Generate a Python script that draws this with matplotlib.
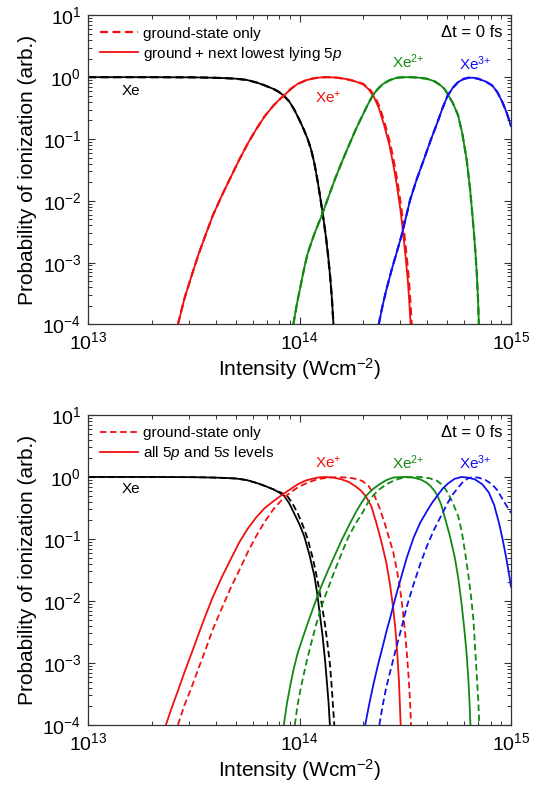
import numpy as np
import matplotlib
matplotlib.use("Agg")
import matplotlib.pyplot as plt
from matplotlib.ticker import LogLocator, NullFormatter

plt.rcParams['font.family'] = ['Liberation Sans', 'DejaVu Sans']
plt.rcParams['mathtext.fontset'] = 'custom'
plt.rcParams['mathtext.rm'] = 'Liberation Sans'
plt.rcParams['mathtext.it'] = 'Liberation Sans:italic'
plt.rcParams['mathtext.default'] = 'regular'

# ---------------- data: log10(intensity [W/cm^2]) and log10(probability) ----------------
# Top panel: solid = ground + next lowest lying 5p ; dashed = ground-state only
top_xe_logI = [13.0, 13.3, 13.5, 13.6, 13.65, 13.7, 13.75, 13.8, 13.84, 13.876, 13.9, 13.925, 13.95, 13.973,
               14.0, 14.02, 14.038, 14.055, 14.07, 14.085, 14.1, 14.113, 14.125, 14.135, 14.145, 14.153, 14.16]
top_xe_logP = [0, 0, -0.003, -0.01, -0.016, -0.025, -0.045, -0.09, -0.14, -0.19, -0.235, -0.30, -0.39, -0.515,
               -0.7, -0.85, -1.0, -1.18, -1.4, -1.68, -2.0, -2.3, -2.6, -2.9, -3.25, -3.6, -4.0]

top_xe1_logI = [13.424, 13.455, 13.488, 13.52, 13.553, 13.59, 13.634, 13.675, 13.715, 13.755, 13.795, 13.835,
                13.876, 13.9, 13.925, 13.96, 13.99, 14.03, 14.07, 14.10, 14.135, 14.175, 14.216, 14.25, 14.297,
                14.325, 14.35, 14.375, 14.40, 14.425, 14.445, 14.46, 14.475, 14.485, 14.495, 14.504, 14.512,
                14.519, 14.525]
top_xe1_logP = [-4.0, -3.58, -3.22, -2.88, -2.57, -2.23, -1.90, -1.61, -1.33, -1.07, -0.84, -0.63,
                -0.46, -0.375, -0.30, -0.185, -0.11, -0.05, -0.016, -0.004, 0, -0.008, -0.027, -0.055, -0.108,
                -0.19, -0.31, -0.5, -0.78, -1.1, -1.45, -1.75, -2.1, -2.38, -2.7, -3.0, -3.3,
                -3.65, -4.0]
top_gs_xe1_logI = [13.424, 13.455, 13.488, 13.52, 13.553, 13.59, 13.634, 13.675, 13.715, 13.755, 13.795, 13.835,
                   13.876, 13.9, 13.925, 13.96, 13.99, 14.03, 14.07, 14.10, 14.135, 14.175, 14.216, 14.25, 14.30,
                   14.33, 14.355, 14.38, 14.405, 14.43, 14.45, 14.465, 14.48, 14.49, 14.50, 14.509, 14.517,
                   14.524, 14.53]
top_gs_xe1_logP = top_xe1_logP

top_xe2_logI = [13.970, 13.988, 14.006, 14.022, 14.038, 14.07, 14.103, 14.135, 14.167, 14.2, 14.232, 14.265,
                14.297, 14.32, 14.345, 14.37, 14.394, 14.425, 14.458, 14.49, 14.523, 14.565, 14.604, 14.64,
                14.668, 14.685, 14.70, 14.725, 14.75, 14.77, 14.79, 14.807, 14.822, 14.831, 14.838, 14.844, 14.848]
top_xe2_logP = [-4.0, -3.65, -3.35, -3.08, -2.85, -2.53, -2.25, -1.95, -1.65, -1.37, -1.11, -0.85,
                -0.62, -0.46, -0.30, -0.19, -0.11, -0.05, -0.01, -0.001, 0, -0.008, -0.027, -0.07,
                -0.135, -0.19, -0.27, -0.42, -0.62, -0.92, -1.33, -1.83, -2.41, -2.8, -3.17, -3.6, -4.0]

top_xe3_logI = [14.374, 14.392, 14.41, 14.435, 14.458, 14.483, 14.523, 14.555, 14.588, 14.62, 14.652, 14.676,
                14.70, 14.725, 14.75, 14.775, 14.798, 14.82, 14.846, 14.88, 14.911, 14.935, 14.96, 14.98, 15.0]
top_xe3_logP = [-4.0, -3.7, -3.44, -3.12, -2.85, -2.55, -1.98, -1.64, -1.33, -1.02, -0.73, -0.5,
                -0.30, -0.17, -0.08, -0.03, -0.01, -0.008, -0.027, -0.07, -0.135, -0.24, -0.41, -0.58, -0.79]

# Bottom panel: solid = all 5p and 5s levels ; dashed = ground-state only
bot_xe_logI = [13.0, 13.3, 13.5, 13.6, 13.65, 13.7, 13.75, 13.8, 13.84, 13.876, 13.9, 13.925, 13.95, 13.973,
               14.0, 14.022, 14.046, 14.07, 14.083, 14.095, 14.108, 14.12, 14.13, 14.137, 14.143]
bot_xe_logP = [0, 0, -0.003, -0.01, -0.016, -0.025, -0.05, -0.1, -0.15, -0.2, -0.245, -0.30, -0.42, -0.58,
               -0.77, -0.96, -1.25, -1.6, -1.88, -2.2, -2.55, -2.95, -3.35, -3.65, -4.0]
bot_gs_xe_logI = [13.0, 13.3, 13.5, 13.6, 13.65, 13.7, 13.75, 13.8, 13.84, 13.876, 13.91, 13.94, 13.965, 13.99,
                  14.015, 14.038, 14.063, 14.087, 14.103, 14.119, 14.131, 14.143, 14.152, 14.158, 14.164]
bot_gs_xe_logP = [0, 0, -0.003, -0.01, -0.016, -0.025, -0.05, -0.1, -0.15, -0.2, -0.25, -0.30, -0.42, -0.58,
                  -0.78, -1.0, -1.32, -1.71, -2.02, -2.36, -2.67, -3.01, -3.4, -3.7, -4.0]

bot_xe1_logI = [13.367, 13.395, 13.424, 13.455, 13.488, 13.52, 13.553, 13.59, 13.634, 13.675, 13.715, 13.755,
                13.795, 13.835, 13.876, 13.92, 13.955, 13.99, 14.03, 14.07, 14.095, 14.12, 14.16, 14.2, 14.235,
                14.264, 14.29, 14.313, 14.34, 14.361, 14.385, 14.41, 14.427, 14.442, 14.453, 14.462, 14.47,
                14.474, 14.478]
bot_xe1_logP = [-4.0, -3.72, -3.45, -3.15, -2.85, -2.55, -2.25, -1.93, -1.60, -1.32, -1.05, -0.83,
                -0.65, -0.5, -0.39, -0.28, -0.2, -0.12, -0.055, -0.02, -0.005, 0, -0.01, -0.04, -0.085,
                -0.15, -0.22, -0.31, -0.48, -0.72, -1.02, -1.38, -1.72, -2.1, -2.45, -2.85, -3.3,
                -3.65, -4.0]
bot_gs_xe1_logI = [13.424, 13.455, 13.488, 13.52, 13.553, 13.59, 13.634, 13.675, 13.715, 13.755, 13.795, 13.835,
                   13.876, 13.91, 13.941, 13.99, 14.038, 14.085, 14.135, 14.18, 14.232, 14.265, 14.297, 14.325,
                   14.35, 14.375, 14.40, 14.42, 14.442, 14.46, 14.475, 14.488, 14.50, 14.508, 14.515, 14.522,
                   14.527]
bot_gs_xe1_logP = [-4.0, -3.68, -3.4, -3.1, -2.8, -2.45, -2.1, -1.78, -1.5, -1.21, -0.95, -0.72,
                   -0.52, -0.39, -0.29, -0.17, -0.09, -0.035, -0.01, -0.003, -0.01, -0.03, -0.065, -0.14,
                   -0.27, -0.47, -0.72, -0.95, -1.2, -1.5, -1.8, -2.15, -2.55, -2.88, -3.2, -3.6,
                   -4.0]

bot_xe2_logI = [13.925, 13.94, 13.957, 13.973, 13.99, 14.014, 14.038, 14.078, 14.105, 14.135, 14.168, 14.2,
                14.232, 14.264, 14.29, 14.313, 14.345, 14.377, 14.41, 14.442, 14.475, 14.507, 14.54, 14.572,
                14.6, 14.62, 14.637, 14.652, 14.67, 14.685, 14.71, 14.733, 14.75, 14.766, 14.779, 14.79,
                14.798, 14.804, 14.808]
bot_xe2_logP = [-4.0, -3.65, -3.34, -3.08, -2.85, -2.6, -2.36, -1.98, -1.74, -1.50, -1.25, -1.01,
                -0.79, -0.58, -0.43, -0.31, -0.2, -0.12, -0.05, -0.01, -0.001, 0, -0.012, -0.04,
                -0.09, -0.15, -0.22, -0.30, -0.45, -0.63, -0.94, -1.28, -1.62, -2.04, -2.45, -2.85,
                -3.25, -3.65, -4.0]
bot_gs_xe2_logI = [13.977, 13.99, 14.006, 14.03, 14.054, 14.078, 14.103, 14.135, 14.167, 14.2, 14.232, 14.265,
                   14.297, 14.32, 14.345, 14.377, 14.41, 14.45, 14.491, 14.53, 14.572, 14.615, 14.652, 14.678,
                   14.70, 14.725, 14.75, 14.767, 14.782, 14.797, 14.811, 14.822, 14.83, 14.838, 14.845, 14.85]
bot_gs_xe2_logP = [-4.0, -3.68, -3.39, -3.02, -2.69, -2.38, -2.09, -1.79, -1.5, -1.22, -0.96, -0.75,
                   -0.58, -0.43, -0.31, -0.2, -0.12, -0.05, -0.01, -0.001, 0, -0.02, -0.065, -0.14,
                   -0.25, -0.42, -0.63, -0.88, -1.2, -1.55, -1.93, -2.3, -2.75, -3.2, -3.6, -4.0]

bot_xe3_logI = [14.31, 14.33, 14.35, 14.37, 14.394, 14.41, 14.43, 14.452, 14.475, 14.507, 14.539, 14.57,
                14.604, 14.628, 14.652, 14.676, 14.70, 14.733, 14.766, 14.8, 14.83, 14.865, 14.895, 14.92,
                14.943, 14.96, 14.976, 14.99, 15.0]
bot_xe3_logP = [-4.0, -3.65, -3.33, -3.04, -2.72, -2.5, -2.25, -1.96, -1.68, -1.3, -0.98, -0.74,
                -0.54, -0.41, -0.30, -0.19, -0.11, -0.03, 0, -0.012, -0.04, -0.12, -0.25, -0.45,
                -0.74, -1.0, -1.28, -1.55, -1.77]
bot_gs_xe3_logI = [14.377, 14.393, 14.41, 14.435, 14.458, 14.483, 14.507, 14.54, 14.572, 14.604, 14.636, 14.67,
                   14.70, 14.725, 14.75, 14.775, 14.798, 14.82, 14.846, 14.88, 14.911, 14.937, 14.96, 14.98, 15.0]
bot_gs_xe3_logP = [-4.0, -3.68, -3.39, -3.05, -2.74, -2.42, -2.09, -1.72, -1.39, -1.1, -0.85, -0.62,
                   -0.42, -0.28, -0.17, -0.07, -0.02, -0.003, -0.01, -0.05, -0.12, -0.22, -0.36, -0.47, -0.58]

species_labels = ['Xe', 'Xe$^{+}$', 'Xe$^{2{+}}$', 'Xe$^{3{+}}$']
top_label_pos = [(13.202, -0.217), (14.135, -0.325), (14.515, 0.244), (14.83, 0.217)]
bot_label_pos = [(13.202, -0.20), (14.135, 0.232), (14.515, 0.232), (14.83, 0.232)]

colors = ['#000000', '#f01010', '#128a12', '#1010f0']
legend_top = ['ground-state only', 'ground + next lowest lying 5$\\mathit{p}$']
legend_bot = ['ground-state only', 'all 5$\\mathit{p}$ and 5$\\mathit{s}$ levels']

DASH = (0, (3.6, 2.0))
LW = 1.3


def p(v):
    return 10.0 ** np.asarray(v, dtype=float)


def style_axes(ax):
    ax.set_xscale('log')
    ax.set_yscale('log')
    ax.set_xlim(1e13, 1e15)
    ax.set_ylim(1e-4, 1e1)
    ax.xaxis.set_major_locator(LogLocator(base=10, numticks=10))
    ax.yaxis.set_major_locator(LogLocator(base=10, numticks=10))
    ax.xaxis.set_minor_locator(LogLocator(base=10, subs=np.arange(2, 10), numticks=20))
    ax.yaxis.set_minor_locator(LogLocator(base=10, subs=np.arange(2, 10), numticks=20))
    ax.xaxis.set_minor_formatter(NullFormatter())
    ax.yaxis.set_minor_formatter(NullFormatter())
    ax.tick_params(which='both', direction='in', top=True, right=True, color='#333333')
    ax.tick_params(which='major', length=5, width=0.8, labelsize=14, pad=5)
    ax.tick_params(which='minor', length=2.8, width=0.7)
    for s in ax.spines.values():
        s.set_color('#333333')
        s.set_linewidth(0.9)
    ax.set_xlabel('Intensity (Wcm$^{-2}$)', fontsize=15, labelpad=2)
    ax.set_ylabel('Probability of ionization (arb.)', fontsize=15, labelpad=4)
    ax.text(0.981, 0.943, '\u0394t = 0 fs', transform=ax.transAxes, ha='right', va='center',
            fontsize=12)


fig = plt.figure(figsize=(5.37, 7.87), dpi=100)
ax1 = fig.add_axes([0.1644, 0.5877, 0.7872, 0.3928])
ax2 = fig.add_axes([0.1644, 0.0788, 0.7872, 0.3939])

# ---- top panel
top_solid = [(top_xe_logI, top_xe_logP), (top_xe1_logI, top_xe1_logP),
             (top_xe2_logI, top_xe2_logP), (top_xe3_logI, top_xe3_logP)]
top_dash = [(top_xe_logI, top_xe_logP), (top_gs_xe1_logI, top_gs_xe1_logP),
            (top_xe2_logI, top_xe2_logP), (top_xe3_logI, top_xe3_logP)]
h_top = None
for i, ((xs, ys), (xd, yd)) in enumerate(zip(top_solid, top_dash)):
    ls, = ax1.plot(p(xs), p(ys), color=colors[i], lw=LW, solid_joinstyle='round')
    ld, = ax1.plot(p(xd), p(yd), color=colors[i], lw=LW + 0.3, linestyle=DASH)
    if i == 1:
        h_top = (ld, ls)
for lab, (lx, ly), c in zip(species_labels, top_label_pos, colors):
    ax1.text(10 ** lx, 10 ** ly, lab, color=c, ha='center', va='center', fontsize=11)
style_axes(ax1)
ax1.legend(list(h_top), legend_top, loc='upper left', frameon=False, fontsize=11,
           handlelength=2.5, handletextpad=0.3, labelspacing=0.25,
           borderaxespad=0.35, borderpad=0.4)

# ---- bottom panel
bot_solid = [(bot_xe_logI, bot_xe_logP), (bot_xe1_logI, bot_xe1_logP),
             (bot_xe2_logI, bot_xe2_logP), (bot_xe3_logI, bot_xe3_logP)]
bot_dash = [(bot_gs_xe_logI, bot_gs_xe_logP), (bot_gs_xe1_logI, bot_gs_xe1_logP),
            (bot_gs_xe2_logI, bot_gs_xe2_logP), (bot_gs_xe3_logI, bot_gs_xe3_logP)]
h_bot = None
for i, ((xs, ys), (xd, yd)) in enumerate(zip(bot_solid, bot_dash)):
    ld, = ax2.plot(p(xd), p(yd), color=colors[i], lw=LW, linestyle=DASH)
    ls, = ax2.plot(p(xs), p(ys), color=colors[i], lw=LW, solid_joinstyle='round')
    if i == 1:
        h_bot = (ld, ls)
for lab, (lx, ly), c in zip(species_labels, bot_label_pos, colors):
    ax2.text(10 ** lx, 10 ** ly, lab, color=c, ha='center', va='center', fontsize=11)
style_axes(ax2)
ax2.legend(list(h_bot), legend_bot, loc='upper left', frameon=False, fontsize=11,
           handlelength=2.5, handletextpad=0.3, labelspacing=0.25,
           borderaxespad=0.35, borderpad=0.4)

fig.savefig('out.png', dpi=100)
